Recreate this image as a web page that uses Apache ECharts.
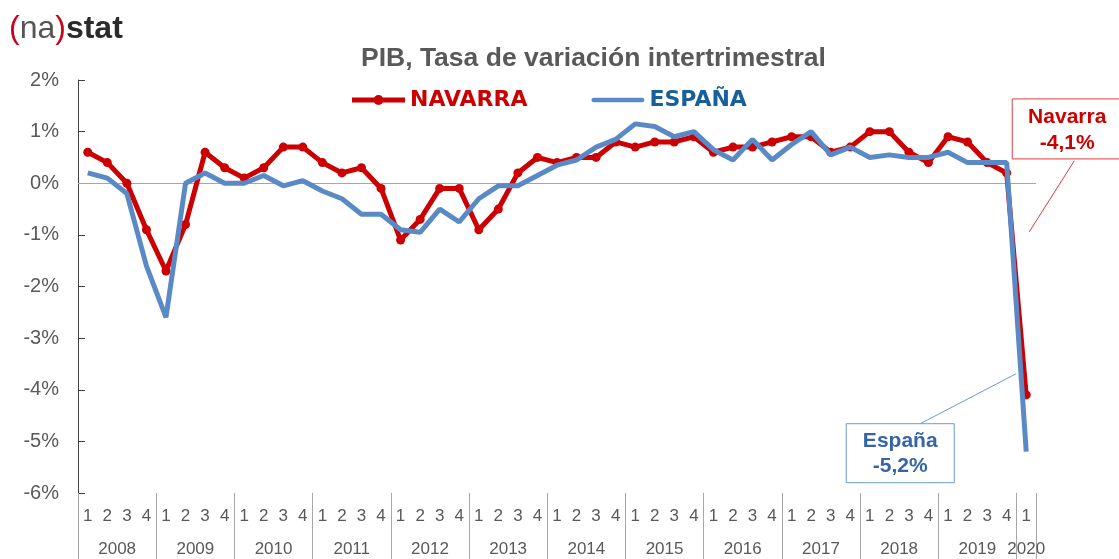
<!DOCTYPE html>
<html>
<head>
<meta charset="utf-8">
<script src="https://cdn.jsdelivr.net/npm/echarts@6/dist/echarts.min.js"></script>
<style>
  html, body { margin: 0; padding: 0; background: #fff; }
  #chart { width: 1119px; height: 559px; }
</style>
</head>
<body>
<div id="chart"></div>
<script>
const years = ['2008', '2009', '2010', '2011', '2012', '2013', '2014', '2015', '2016', '2017', '2018', '2019', '2020'];
const quarterNames = ['1', '2', '3', '4'];
const yTicks = [-6, -5, -4, -3, -2, -1, 0, 1, 2];

// tasa de variación intertrimestral (%), 2008T1 .. 2020T1
const navarra = [
  0.6, 0.4, 0.0, -0.9,
  -1.7, -0.8, 0.6, 0.3,
  0.1, 0.3, 0.7, 0.7,
  0.4, 0.2, 0.3, -0.1,
  -1.1, -0.7, -0.1, -0.1,
  -0.9, -0.5, 0.2, 0.5,
  0.4, 0.5, 0.5, 0.8,
  0.7, 0.8, 0.8, 0.9,
  0.6, 0.7, 0.7, 0.8,
  0.9, 0.9, 0.6, 0.7,
  1.0, 1.0, 0.6, 0.4,
  0.9, 0.8, 0.4, 0.2,
  -4.1
];
const espana = [
  0.2, 0.1, -0.2, -1.6,
  -2.6, 0.0, 0.2, 0.0,
  0.0, 0.15, -0.05, 0.05,
  -0.15, -0.3, -0.6, -0.6,
  -0.9, -0.95, -0.5, -0.75,
  -0.3, -0.05, -0.05, 0.15,
  0.35, 0.45, 0.7, 0.85,
  1.15, 1.1, 0.9, 1.0,
  0.65, 0.45, 0.85, 0.45,
  0.75, 1.0, 0.55, 0.7,
  0.5, 0.55, 0.5, 0.5,
  0.6, 0.4, 0.4, 0.4,
  -5.2
];

// categorías año-trimestre
const cats = [];
years.forEach(function (y) {
  const n = y === '2020' ? 1 : 4;
  for (let q = 0; q < n; q++) cats.push(y + '|' + quarterNames[q]);
});

const txtGray = '#595959';
const red = '#cc0000';
const blue = '#5a8ac6';
const font = 'Liberation Sans, Arial, sans-serif';

const chart = echarts.init(document.getElementById('chart'), null, {renderer: 'canvas'});
const option = {
  backgroundColor: '#ffffff',
  animation: false,
  title: [{
    text: 'PIB, Tasa de variación intertrimestral',
    left: 356,
    top: 40,
    textStyle: {color: txtGray, fontSize: 26.5, fontWeight: 'bold', fontFamily: font}
  }],
  legend: {
    left: 347,
    top: 84,
    itemGap: 64,
    itemWidth: 53,
    itemHeight: 12,
    textStyle: {fontSize: 22, fontWeight: 'bold', fontFamily: 'DejaVu Sans, sans-serif'},
    data: [
      {
        name: 'NAVARRA',
        icon: 'path://M0,4 L53,4 L53,9 L0,9 Z M31.5,6.5 A5,5 0 1,1 21.5,6.5 A5,5 0 1,1 31.5,6.5 Z',
        itemStyle: {color: red},
        textStyle: {color: red}
      },
      {
        name: 'ESPAÑA',
        icon: 'path://M2.5,4 L55.5,4 A2.5,2.5 0 0,1 55.5,9 L2.5,9 A2.5,2.5 0 0,1 2.5,4 Z',
        itemStyle: {color: blue},
        textStyle: {color: '#17609a'}
      }
    ]
  },
  grid: {left: 78, right: 83, top: 80, bottom: 66, containLabel: false},
  xAxis: [{
    type: 'category',
    data: cats,
    position: 'bottom',
    boundaryGap: true,
    axisLine: {show: false, onZero: false},
    axisTick: {
      show: true,
      length: 66,
      interval: function (i) { return i % 4 === 0; },
      lineStyle: {color: '#a6a6a6', width: 1}
    },
    axisLabel: {
      interval: 0,
      margin: 15,
      color: txtGray,
      fontSize: 17,
      fontFamily: font,
      formatter: function (v) { return v.split('|')[1]; }
    },
    splitLine: {show: false}
  }, {
    type: 'category',
    data: cats,
    position: 'bottom',
    boundaryGap: true,
    axisLine: {show: false, onZero: false},
    axisTick: {show: false},
    axisLabel: {
      interval: function (i, v) { return v.split('|')[1] === '2' || v === '2020|1'; },
      margin: 48,
      color: txtGray,
      fontSize: 17,
      fontFamily: font,
      formatter: function (v) {
        const p = v.split('|');
        return p[0] === '2020' ? '{b|' + p[0] + '}' : '{a|' + p[0] + '}';
      },
      rich: {
        a: {padding: [0, 0, 0, 19.6], color: txtGray, fontSize: 17, fontFamily: font},
        b: {color: txtGray, fontSize: 17, fontFamily: font}
      }
    }
  }],
  yAxis: {
    type: 'value',
    min: yTicks[0],
    max: yTicks[yTicks.length - 1],
    interval: 1,
    axisLine: {show: true, lineStyle: {color: '#404040', width: 1}},
    axisTick: {show: true, inside: true, length: 7, lineStyle: {color: '#404040'}},
    axisLabel: {
      margin: 19,
      color: txtGray,
      fontSize: 20,
      fontFamily: font,
      formatter: '{value}%'
    },
    splitLine: {show: false}
  },
  series: [{
    name: 'ESPAÑA',
    type: 'line',
    data: espana,
    symbol: 'none',
    lineStyle: {color: blue, width: 5},
    itemStyle: {color: blue},
    z: 3,
    markLine: {
      silent: true,
      symbol: 'none',
      label: {show: false},
      lineStyle: {color: '#a6a6a6', width: 1.2, type: 'solid'},
      data: [{yAxis: 0}],
      z: 1
    }
  }, {
    name: 'NAVARRA',
    type: 'line',
    data: navarra,
    symbol: 'circle',
    symbolSize: 9,
    showAllSymbol: true,
    lineStyle: {color: red, width: 5},
    itemStyle: {color: red},
    z: 2
  }]
};
chart.setOption(option);

// anotaciones del último trimestre
const last = cats.length - 1;
const pNav = chart.convertToPixel({seriesIndex: 1}, [last, navarra[last]]);
const pEsp = chart.convertToPixel({seriesIndex: 0}, [last, espana[last]]);
const fmt = function (v) { return v.toFixed(1).replace('.', ',') + '%'; };

chart.setOption({
  graphic: [
    {
      type: 'text', left: 9, top: 13,
      style: {
        text: '{p|(}{n|na}{p|)}{s|stat}',
        rich: {
          p: {fill: '#d0021b', fontSize: 32, fontFamily: font},
          n: {fill: '#555555', fontSize: 32, fontFamily: font},
          s: {fill: '#2b2b2b', fontSize: 32, fontWeight: 'bold', fontFamily: font}
        }
      }
    },
    {
      type: 'line',
      shape: {x1: pNav[0] + 3, y1: pNav[1] - 163, x2: pNav[0] + 48, y2: pNav[1] - 234},
      style: {stroke: '#e03c3c', lineWidth: 1}
    },
    {
      type: 'rect',
      shape: {x: pNav[0] - 14, y: pNav[1] - 296, width: 120, height: 60},
      style: {fill: '#ffffff', stroke: '#e03c3c', lineWidth: 1}
    },
    {
      type: 'text',
      x: pNav[0] + 41, y: pNav[1] - 265,
      style: {
        text: 'Navarra\n' + fmt(navarra[last]),
        fill: red, fontSize: 21, fontWeight: 'bold', lineHeight: 26,
        fontFamily: font,
        align: 'center', verticalAlign: 'middle'
      }
    },
    {
      type: 'line',
      shape: {x1: pEsp[0] - 10, y1: pEsp[1] - 78, x2: pEsp[0] - 106, y2: pEsp[1] - 28},
      style: {stroke: '#6a9ad4', lineWidth: 1}
    },
    {
      type: 'rect',
      shape: {x: pEsp[0] - 180, y: pEsp[1] - 28, width: 108, height: 59},
      style: {fill: '#ffffff', stroke: '#6a9ad4', lineWidth: 1}
    },
    {
      type: 'text',
      x: pEsp[0] - 126, y: pEsp[1] + 2,
      style: {
        text: 'España\n' + fmt(espana[last]),
        fill: '#3565a8', fontSize: 21, fontWeight: 'bold', lineHeight: 25,
        fontFamily: font,
        align: 'center', verticalAlign: 'middle'
      }
    }
  ]
});
</script>
</body>
</html>
